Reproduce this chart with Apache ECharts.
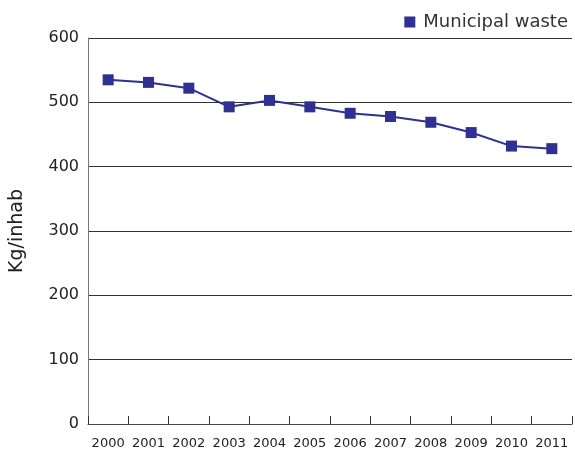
<!DOCTYPE html>
<html><head><meta charset="utf-8">
<script src="https://cdn.jsdelivr.net/npm/echarts@6/dist/echarts.min.js"></script>
<style>html,body{margin:0;padding:0;background:#fff}#c{width:575px;height:454px}</style>
</head><body><div id="c"></div>
<script>
var years = ['2000','2001','2002','2003','2004','2005','2006','2007','2008','2009','2010','2011'];
var municipalWaste = [535, 531, 522, 493, 503, 493, 483, 478, 469, 453, 432, 428];
var yTicks = [0, 100, 200, 300, 400, 500, 600];
var FONT = '"DejaVu Sans", sans-serif';
var chart = echarts.init(document.getElementById('c'), null, {renderer: 'canvas'});
chart.setOption({
  animation: false,
  backgroundColor: '#fff',
  textStyle: {fontFamily: FONT},
  grid: {left: 88, right: 3, top: 38, bottom: 30, containLabel: false},
  legend: {
    top: 8, right: 2, itemWidth: 11, itemHeight: 11, itemGap: 10,
    icon: 'rect',
    textStyle: {fontSize: 18, color: '#333', fontFamily: FONT, padding: [0, 0, 0, 3]},
    data: ['Municipal waste']
  },
  xAxis: {
    type: 'category', data: years, boundaryGap: true,
    axisLine: {show: true, lineStyle: {color: '#444', width: 1}},
    axisTick: {show: true, inside: true, length: 8, alignWithLabel: false, lineStyle: {color: '#333'}},
    axisLabel: {fontSize: 13, color: '#222', margin: 13, fontFamily: FONT, interval: 0},
    splitLine: {show: false}
  },
  yAxis: {
    type: 'value', min: yTicks[0], max: yTicks[yTicks.length-1], interval: 100,
    name: 'Kg/inhab', nameLocation: 'middle', nameGap: 61, nameRotate: 90,
    nameTextStyle: {fontSize: 19, color: '#222', fontFamily: FONT},
    axisLine: {show: true, lineStyle: {color: '#777', width: 1}},
    axisTick: {show: false},
    axisLabel: {fontSize: 16, color: '#222', margin: 9, fontFamily: FONT, padding: [0, 0, 6, 0]},
    splitLine: {show: true, lineStyle: {color: '#333', width: 1}}
  },
  series: [{
    name: 'Municipal waste', type: 'line', data: municipalWaste,
    symbol: 'rect', symbolSize: 11, showSymbol: true,
    lineStyle: {color: '#2e3192', width: 2},
    itemStyle: {color: '#2e3192'}
  }]
});
</script></body></html>
